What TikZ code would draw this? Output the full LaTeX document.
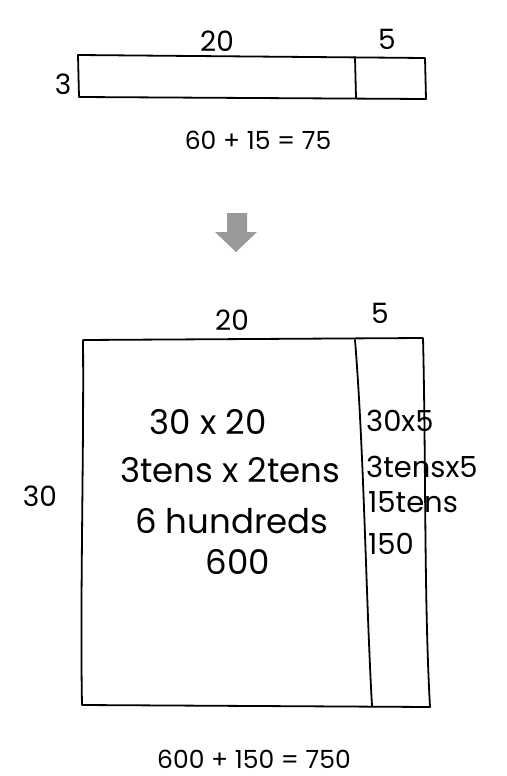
\documentclass[tikz,border=0pt]{standalone}
\usepackage{fontspec}
\setmainfont{Poppins}
\usepackage{xcolor}
\usetikzlibrary{positioning, calc}
\definecolor{arrowgray}{RGB}{153,153,153}

\begin{document}
\begin{tikzpicture}[x=1pt, y=-1pt,
        pen/.style={line width=1.8pt, draw=black, line cap=round, line join=round},
        dimlabel/.style={font=\fontsize{28}{30}\selectfont, inner sep=0pt},
        sumtext/.style={font=\fontsize{25}{27}\selectfont, inner sep=0pt},
        bigtext/.style={font=\fontsize{34}{36}\selectfont, inner sep=0pt},
        sidetext/.style={font=\fontsize{29}{31}\selectfont, inner sep=0pt, anchor=west}
    ]
    \useasboundingbox (0,0) rectangle (506,776);

    % Small model: 3 x 25
    \coordinate (st_tl) at (78,55);
    \coordinate (st_tr) at (425,58);
    \coordinate (st_br) at (426,99);
    \coordinate (st_bl) at (79,97);
    \draw[pen] (st_tl) -- (st_tr) -- (st_br) -- (st_bl) -- cycle;
    \draw[pen] (355,57) -- (356,98);
    \node[dimlabel] (st_twenty) at (217,41) {20};
    \node[dimlabel] (st_five) at (387,39) {5};
    \node[dimlabel] (st_three) at (63,84) {3};
    \node[sumtext] (st_sum) at (258,140) {60 + 15 = 75};

    % Arrow down
    \fill[arrowgray] (227,213) -- (247,213) -- (247,232) -- (257,232)
        -- (236,252) -- (215,232) -- (227,232) -- cycle;

    % Big model: 30 x 25
    \coordinate (bg_tl) at (83,340);
    \coordinate (bg_tr) at (423,338);
    \coordinate (bg_br) at (430,707);
    \coordinate (bg_bl) at (82,705);
    \draw[pen] (bg_tl) -- (bg_tr)
        .. controls (426,460) and (424,600) .. (bg_br)
        -- (bg_bl)
        .. controls (80,600) and (84,450) .. cycle;
    \draw[pen] (355,340) .. controls (364,450) and (366,600) .. (372,706);
    \node[dimlabel] (bg_twenty) at (232,320) {20};
    \node[dimlabel] (bg_five) at (380,313) {5};
    \node[dimlabel] (bg_thirty) at (40,496) {30};

    % Partial products
    \node[bigtext] (part_a) at (208,422) {30 x 20};
    \node[bigtext] (part_b) at (230,470) {3tens x 2tens};
    \node[bigtext] (part_c) at (232,521) {6 hundreds};
    \node[bigtext] (part_d) at (238,562) {600};
    \node[sidetext] (side_a) at (366,421) {30x5};
    \node[sidetext] (side_b) at (366,467) {3tensx5};
    \node[sidetext] (side_c) at (368,502) {15tens};
    \node[sidetext] (side_d) at (368,544) {150};

    \node[sumtext] (bg_sum) at (254,759) {600 + 150 = 750};
\end{tikzpicture}
\end{document}
